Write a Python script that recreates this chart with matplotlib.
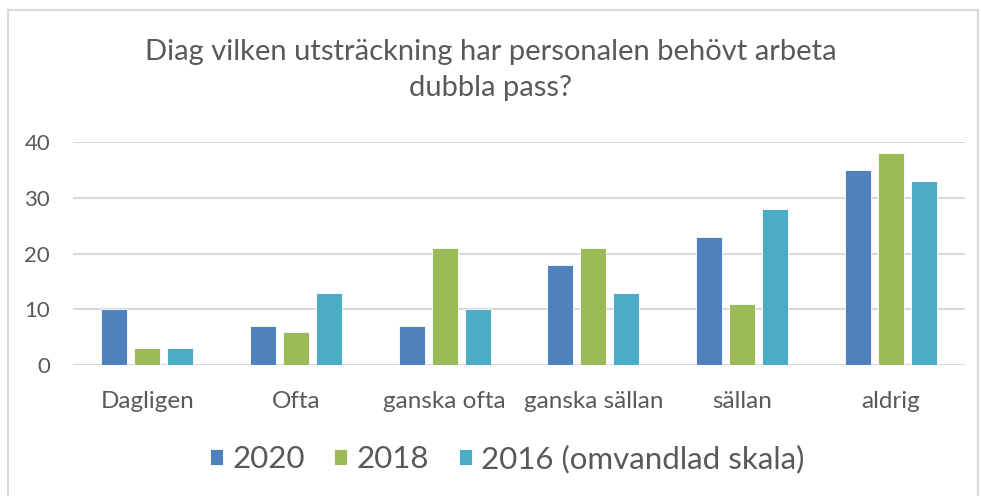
import numpy as np
import matplotlib
matplotlib.use('Agg')
from matplotlib import pyplot as plt
from matplotlib.lines import Line2D

plt.rcParams['font.family'] = ['Lato', 'DejaVu Sans']

# Data
categories = ['Dagligen', 'Ofta', 'ganska ofta', 'ganska sällan', 'sällan', 'aldrig']
series_names = ['2020', '2018', '2016 (omvandlad skala)']
v2020 = [10, 7, 7, 18, 23, 35]
v2018 = [3, 6, 21, 21, 11, 38]
v2016 = [3, 13, 10, 13, 28, 33]
colors = ['#4F81BD', '#9BBB59', '#4BACC6']

fig = plt.figure(figsize=(9.81, 4.96), dpi=100)
ax = fig.add_axes([73/981, 1 - 365/496, (965 - 73)/981, (365 - 142)/496])

x = np.arange(len(categories))
width = 0.175
step = 0.222
for i, (vals, name, c) in enumerate(zip([v2020, v2018, v2016], series_names, colors)):
    ax.bar(x + (i - 1) * step, vals, width, color=c, label=name,
           edgecolor='white', linewidth=0.6, zorder=3)

ax.set_xlim(-0.5, len(categories) - 0.5)
ax.set_ylim(0, 40)
ax.set_yticks([0, 10, 20, 30, 40])
ax.set_xticks(x)
ax.set_xticklabels(categories)
ax.grid(axis='y', color='#D9D9D9', linewidth=1.5, zorder=0)
ax.set_axisbelow(True)
for s in ax.spines.values():
    s.set_visible(False)
ax.tick_params(length=0, colors='#595959', labelsize=17.5)
ax.tick_params(axis='x', pad=19)
ax.tick_params(axis='y', pad=16.5, labelsize=16)

fig.text(0.5, 1 - 70/496, 'Diag vilken utsträckning har personalen behövt arbeta\ndubbla pass?',
         ha='center', va='center', fontsize=21, color='#595959', linespacing=1.45)

fig.legend(loc='center', bbox_to_anchor=(0.517, 1 - 459/496), ncol=3, frameon=False,
           fontsize=22.5, labelcolor='#595959', handlelength=0.42, handleheight=0.42,
           handletextpad=0.3, columnspacing=0.95)

# light frame round the chart
fig.add_artist(Line2D([8/981, 8/981], [0, 1 - 10/496], transform=fig.transFigure, color='#D9D9D9', lw=1.5))
fig.add_artist(Line2D([8/981, 978/981], [1 - 10/496, 1 - 10/496], transform=fig.transFigure, color='#D9D9D9', lw=1.5))
fig.add_artist(Line2D([978/981, 978/981], [0, 1 - 10/496], transform=fig.transFigure, color='#D9D9D9', lw=1.5))

fig.savefig('out.png', dpi=100)
